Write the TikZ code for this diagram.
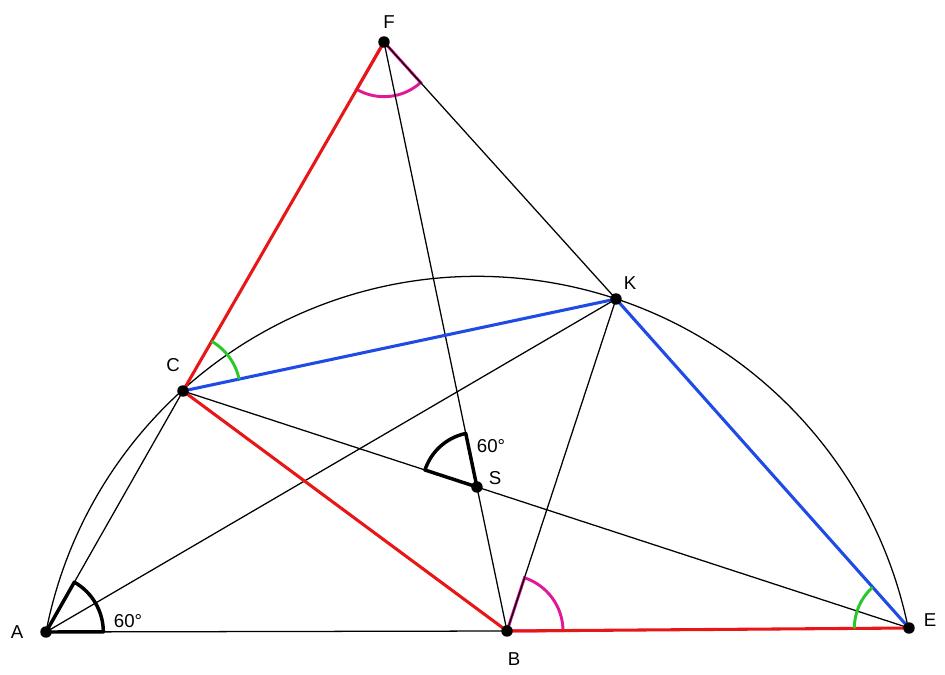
\documentclass[tikz,border=0pt]{standalone}
\usepackage{fontspec}
\setmainfont{Liberation Sans}
\usetikzlibrary{calc}
\definecolor{myred}{RGB}{232,22,22}
\definecolor{myblue}{RGB}{30,75,230}
\definecolor{mygreen}{RGB}{40,200,40}
\definecolor{mymag}{RGB}{225,25,150}
\pgfdeclarelayer{fg}
\pgfsetlayers{main,fg}
\newcommand\angsector[6]{%
  \draw[#5] let \p1=($(#2)-(#1)$), \p2=($(#3)-(#1)$),
    \n1={atan2(\y1,\x1)}, \n2={atan2(\y2,\x2)},
    \n3={ifthenelse(\n2-\n1>180,\n2-360,ifthenelse(\n1-\n2>180,\n2+360,\n2))}
    in #6;}
\begin{document}
\begin{tikzpicture}[x=0.75pt,y=-0.75pt,
  dot/.style={circle,fill=black,inner sep=0pt,minimum size=8.6pt},
  lbl/.style={font=\fontsize{14}{16}\selectfont,inner sep=0pt},
  blk/.style={line width=0.95pt,black},
  redseg/.style={line width=2.3pt,myred},
  blueseg/.style={line width=2.3pt,myblue},
  thickang/.style={line width=2.6pt,black,line join=round},
  magang/.style={line width=2.2pt,mymag},
  greenang/.style={line width=2.2pt,mygreen}]
\useasboundingbox (0,0) rectangle (945,674);
\begin{pgfonlayer}{fg}
\node[dot] (A) at (46,632) {};
\node[dot] (B) at (507,631) {};
\node[dot] (E) at (909,628) {};
\node[dot] (C) at (183,391) {};
\node[dot] (K) at (616,299) {};
\node[dot] (F) at (384,42) {};
\node[dot] (S) at (intersection of F--B and C--E) {};
\end{pgfonlayer}
\coordinate (O) at (477.5,716);
% magenta sectors (beneath lines)
\angsector{B}{E}{K}{42pt}{magang}{(B.center) -- ++(\n1:42pt) arc[start angle=\n1,end angle=\n3,radius=42pt] -- cycle}
\angsector{F}{C}{K}{41pt}{magang}{(F.center) -- ++(\n1:41pt) arc[start angle=\n1,end angle=\n3,radius=41pt] -- cycle}
% circle arc
\draw[blk] let \p1=($(A)-(O)$), \p2=($(E)-(O)$), \n1={atan2(\y1,\x1)},
  \n2={atan2(\y2,\x2)}, \n3={veclen(\x1,\y1)} in
  (A.center) arc[start angle=\n1,end angle=\n2,radius=\n3];
% black lines
\draw[blk] (A.center) -- (B.center);
\draw[blk] (A.center) -- (C.center);
\draw[blk] (A.center) -- (K.center);
\draw[blk] (B.center) -- (K.center);
\draw[blk] (F.center) -- (B.center);
\draw[blk] (C.center) -- (E.center);
\draw[blk] (F.center) -- (K.center);
% red and blue
\draw[redseg] (F.center) -- (C.center);
\draw[redseg] (C.center) -- (B.center);
\draw[redseg] (B.center) -- (E.center);
\draw[blueseg] (C.center) -- (K.center);
\draw[blueseg] (K.center) -- (E.center);
% green arcs
\angsector{C}{K}{F}{43pt}{greenang}{($(C)+(\n1:43pt)$) arc[start angle=\n1,end angle=\n3,radius=43pt]}
\angsector{E}{K}{B}{41pt}{greenang}{($(E)+(\n1:41pt)$) arc[start angle=\n1,end angle=\n3,radius=41pt]}
% black 60 degree sectors
\angsector{A}{B}{C}{43pt}{thickang}{(A.center) -- ++(\n1:43pt) arc[start angle=\n1,end angle=\n3,radius=43pt] -- cycle}
\angsector{S}{C}{F}{41pt}{thickang}{(S.center) -- ++(\n1:41pt) arc[start angle=\n1,end angle=\n3,radius=41pt] -- cycle}
% labels
\node[lbl] (lF) at (389,22) {F};
\node[lbl] (lK) at (630,283) {K};
\node[lbl] (lC) at (173,365) {C};
\node[lbl] (lA) at (17,632) {A};
\node[lbl] (lB) at (514,659) {B};
\node[lbl] (lE) at (930,620) {E};
\node[lbl] (lS) at (495,478) {S};
\node[lbl] (a1) at (128,621) {60°};
\node[lbl] (a2) at (491,446) {60°};
\end{tikzpicture}
\end{document}
